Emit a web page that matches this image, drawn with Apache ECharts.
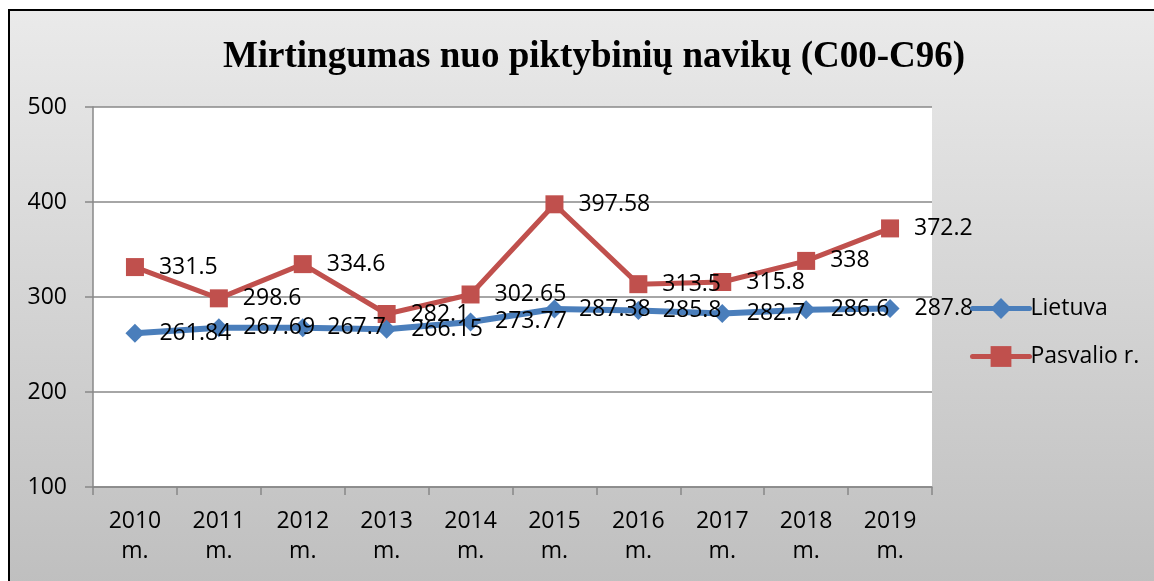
<!DOCTYPE html>
<html>
<head>
<meta charset="utf-8">
<script src="https://cdn.jsdelivr.net/npm/echarts@6/dist/echarts.min.js"></script>
<style>
  html, body { margin: 0; padding: 0; background: #fff; }
  #frame {
    position: absolute; left: 8px; top: 9px; width: 1200px; height: 600px;
    border: 2px solid #000;
    background: linear-gradient(to bottom, #eaeaea 0%, #bdbdbd 100%);
  }
  #chart { position: absolute; left: 0; top: 0; width: 1154px; height: 581px; }
</style>
</head>
<body>
<div id="frame"></div>
<div id="chart"></div>
<script>
// duomenys
var years = ['2010\nm.', '2011\nm.', '2012\nm.', '2013\nm.', '2014\nm.', '2015\nm.', '2016\nm.', '2017\nm.', '2018\nm.', '2019\nm.'];
var lietuva = [261.84, 267.69, 267.7, 266.15, 273.77, 287.38, 285.8, 282.7, 286.6, 287.8];
var pasvalio = [331.5, 298.6, 334.6, 282.1, 302.65, 397.58, 313.5, 315.8, 338, 372.2];

var font = 'Open Sans';
var fs = 23;
var chart = echarts.init(document.getElementById('chart'));

chart.setOption({
    backgroundColor: 'transparent',
    animation: false,
    title: {
        text: 'Mirtingumas nuo piktybinių navikų (C00-C96)',
        left: 589,
        textAlign: 'center',
        top: 34,
        textStyle: {
            fontFamily: 'Liberation Serif',
            fontWeight: 'bold',
            fontSize: 37,
            color: '#000'
        }
    },
    legend: {
        orient: 'vertical',
        left: 970,
        top: 297,
        padding: 0,
        itemWidth: 57,
        itemHeight: 26,
        itemGap: 25,
        lineStyle: { width: 5, cap: 'round' },
        textStyle: { fontFamily: font, fontSize: fs, color: '#000', padding: [0, 0, 0, -4] },
        data: ['Lietuva', 'Pasvalio r.']
    },
    grid: {
        left: 93, top: 107, right: 222, bottom: 94,
        show: true,
        backgroundColor: '#fff',
        borderWidth: 0
    },
    xAxis: {
        type: 'category',
        data: years,
        boundaryGap: true,
        axisLine: { lineStyle: { color: '#888', width: 1.5 } },
        axisTick: { show: true, length: 8, lineStyle: { color: '#888', width: 1.5 } },
        axisLabel: {
            fontFamily: font, fontSize: fs, color: '#000',
            margin: 19, lineHeight: 30
        }
    },
    yAxis: {
        type: 'value',
        min: 100, max: 500, interval: 100,
        axisLine: { show: true, lineStyle: { color: '#888', width: 1.5 } },
        axisTick: { show: true, length: 8, lineStyle: { color: '#888', width: 1.5 } },
        splitLine: { lineStyle: { color: '#888', width: 1.5 } },
        axisLabel: { fontFamily: font, fontSize: fs, color: '#000', margin: 26 }
    },
    series: [{
        name: 'Lietuva',
        type: 'line',
        data: lietuva,
        symbol: 'diamond',
        symbolSize: 19,
        itemStyle: { color: '#4a7ebb' },
        lineStyle: { color: '#4a7ebb', width: 6 },
        label: {
            show: true, position: 'right', distance: 15,
            fontFamily: font, fontSize: fs, color: '#000'
        },
        z: 3
    }, {
        name: 'Pasvalio r.',
        type: 'line',
        data: pasvalio,
        symbol: 'rect',
        symbolSize: 18,
        itemStyle: { color: '#c0504d' },
        lineStyle: { color: '#c0504d', width: 5 },
        label: {
            show: true, position: 'right', distance: 15,
            fontFamily: font, fontSize: fs, color: '#000'
        },
        z: 2
    }]
});
</script>
</body>
</html>
